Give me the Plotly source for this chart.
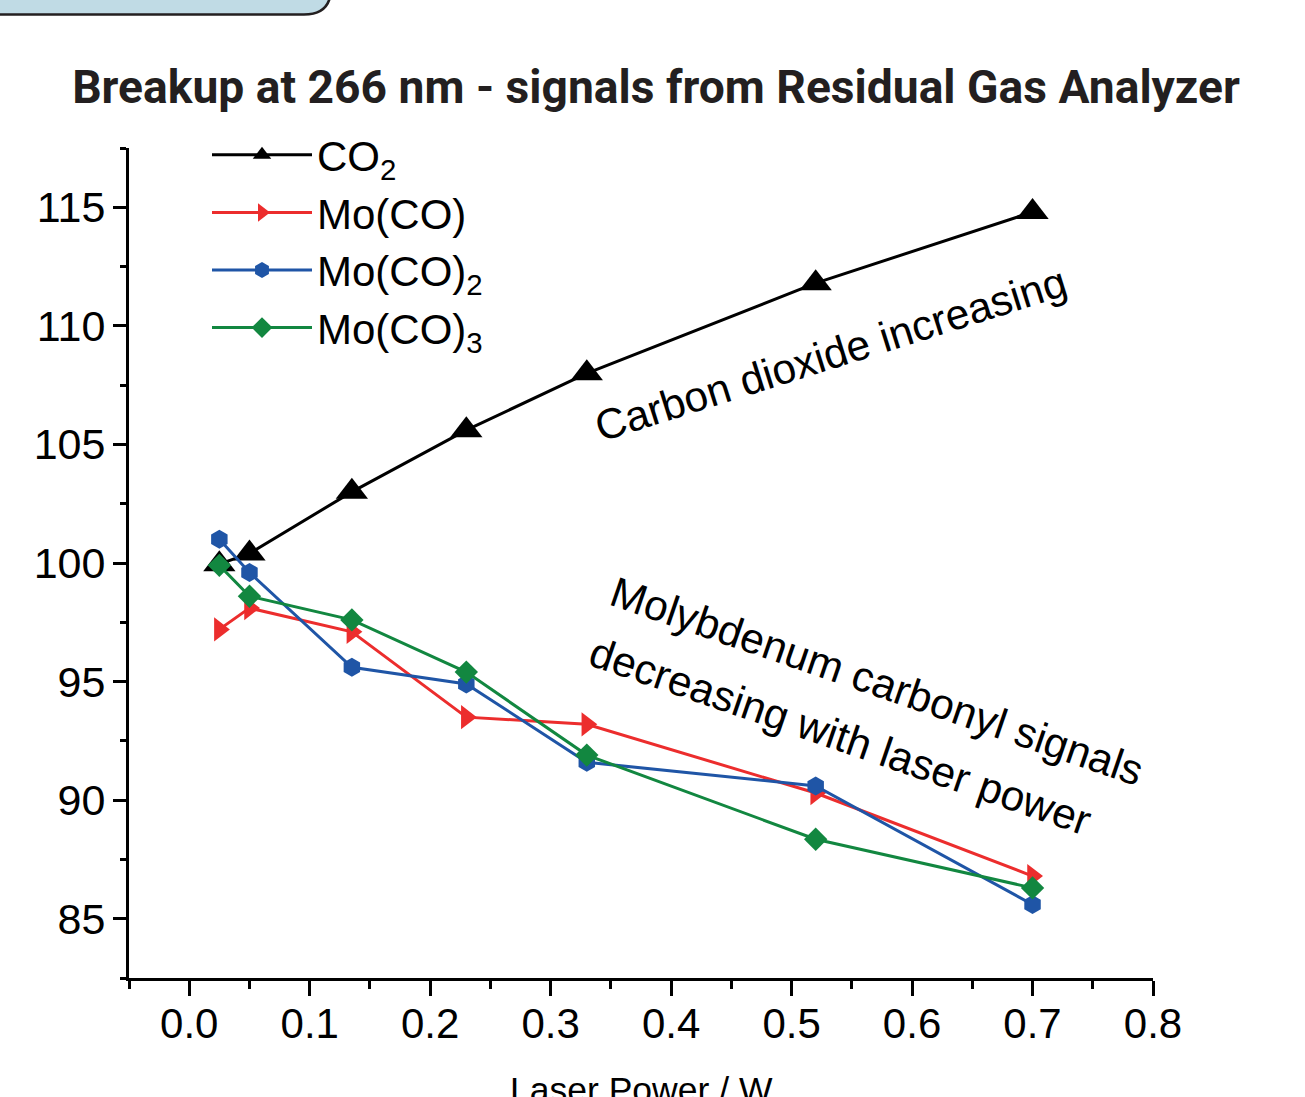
import plotly.graph_objects as go

# ---------------- data ----------------
laser_power = [0.025, 0.05, 0.135, 0.23, 0.33, 0.52, 0.70]
co2 = [99.95, 100.4, 103.0, 105.6, 108.0, 111.8, 114.8]
mo_co = [97.2, 98.1, 97.1, 93.5, 93.2, 90.3, 86.8]
mo_co2 = [101.0, 99.6, 95.6, 94.9, 91.6, 90.6, 85.6]
mo_co3 = [99.9, 98.6, 97.6, 95.4, 91.9, 88.35, 86.3]

series_names = ["CO<sub>2</sub>", "Mo(CO)", "Mo(CO)<sub>2</sub>", "Mo(CO)<sub>3</sub>"]
x_ticks = [0.0, 0.1, 0.2, 0.3, 0.4, 0.5, 0.6, 0.7, 0.8]
y_ticks = [85, 90, 95, 100, 105, 110, 115]

title_text = "Breakup at 266 nm - signals from Residual Gas Analyzer"
x_title = "Laser Power / W"
note_co2 = "Carbon dioxide increasing"
note_mo_1 = "Molybdenum carbonyl signals"
note_mo_2 = "decreasing with laser power"

# ---------------- layout constants ----------------
W, H = 1305, 1097
ML, MR, MT, MB = 129, 152, 148, 119
PW, PH = W - ML - MR, H - MT - MB
FONT = "Liberation Sans, Arial, Helvetica, sans-serif"
TITLE_FONT = "Roboto, Liberation Sans, Arial, sans-serif"

def px(xpix):
    return (xpix - ML) / PW

def py(ypix):
    return (H - MB - ypix) / PH

styles = [
    dict(color="#000000", symbol="triangle-up", size=28),
    dict(color="#ec2d2d", symbol="triangle-right", size=21),
    dict(color="#1f55a6", symbol="hexagon", size=19),
    dict(color="#128740", symbol="diamond", size=18),
]
series = [co2, mo_co, mo_co2, mo_co3]

fig = go.Figure()
for name, vals, st in zip(series_names, series, styles):
    fig.add_trace(go.Scatter(
        x=laser_power, y=vals, name=name, mode="lines+markers",
        line=dict(color=st["color"], width=3),
        marker=dict(color=st["color"], symbol=st["symbol"], size=st["size"],
                    line=dict(width=0)),
        cliponaxis=False,
    ))

# rounded panel edge at the top-left corner
box_path = (f"M{px(-20)},{py(-20)} L{px(-20)},{py(14.5)} L{px(304)},{py(14.5)} "
            f"Q{px(331)},{py(14.5)} {px(331)},{py(-12)} L{px(331)},{py(-20)} Z")
fig.add_shape(type="path", path=box_path, xref="paper", yref="paper",
              fillcolor="#c0dbe5", line=dict(color="#231f20", width=2.5), layer="above")

axis_common = dict(
    showgrid=False, zeroline=False, showline=True, linecolor="black", linewidth=3,
    ticks="outside", tickcolor="black", tickwidth=2.5, automargin=False,
)

fig.update_xaxes(
    range=[-0.05, 0.8], tickvals=x_ticks, tickformat=".1f", ticklen=15,
    minor=dict(dtick=0.05, tick0=0, ticks="outside", ticklen=8, tickwidth=2.5, tickcolor="black"),
    ticklabelstandoff=-8,
    tickfont=dict(family=FONT, size=42, color="black"),
    **axis_common,
)
fig.update_yaxes(
    range=[82.5, 117.5], tickvals=y_ticks, ticklen=13,
    minor=dict(dtick=2.5, tick0=0, ticks="outside", ticklen=6, tickwidth=2.5, tickcolor="black"),
    ticklabelstandoff=-1,
    tickfont=dict(family=FONT, size=43, color="black"),
    **axis_common,
)

# x-axis title (runs off the bottom edge, as in the reference)
fig.add_annotation(x=0.5, y=py(1068), xref="paper", yref="paper", text=x_title,
                   showarrow=False, xanchor="center", yanchor="top",
                   font=dict(family=FONT, size=35.5, color="black"))

fig.add_annotation(x=0.532, y=108.8, text=note_co2, showarrow=False, textangle=-17.5,
                   font=dict(family=FONT, size=42.5, color="black"),
                   xanchor="center", yanchor="middle")
fig.add_annotation(x=0.571, y=95.0, text=note_mo_1, showarrow=False, textangle=19,
                   font=dict(family=FONT, size=42.5, color="black"),
                   xanchor="center", yanchor="middle")
fig.add_annotation(x=0.541, y=92.7, text=note_mo_2, showarrow=False, textangle=19,
                   font=dict(family=FONT, size=42.5, color="black"),
                   xanchor="center", yanchor="middle")

fig.update_layout(
    width=W, height=H,
    margin=dict(l=ML, r=MR, t=MT, b=MB, pad=0, autoexpand=False),
    paper_bgcolor="white", plot_bgcolor="white",
    title=dict(text=f"<b>{title_text}</b>", x=656 / W, xanchor="center",
               y=1 - 87 / H, yanchor="middle", xref="container", yref="container",
               font=dict(family=TITLE_FONT, size=46.2, color="#231f20")),
    showlegend=True,
    legend=dict(x=px(207), y=py(121), xanchor="left", yanchor="top",
                bgcolor="rgba(0,0,0,0)", borderwidth=0, itemwidth=100,
                font=dict(family=FONT, size=42, color="black"),
                tracegroupgap=0, itemclick=False),
    font=dict(family=FONT, color="black"),
)

fig.write_html("out.html", config={"displayModeBar": False},
               post_script="document.body.style.margin='0';document.body.style.overflow='hidden';")
